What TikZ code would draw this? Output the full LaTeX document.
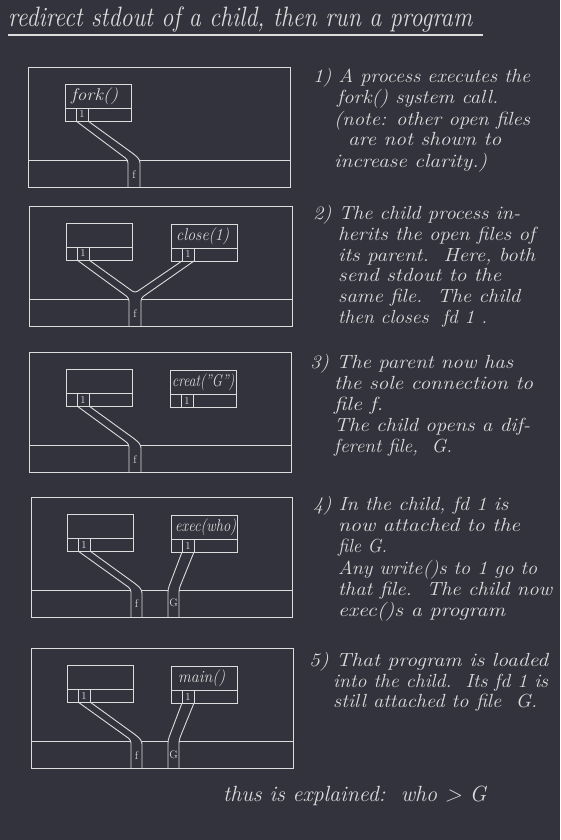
\documentclass[tikz,border=0pt]{standalone}
\usepackage{graphicx}
\usetikzlibrary{calc}
\definecolor{bg}{RGB}{51,51,61}
\definecolor{fg}{RGB}{220,220,220}
\newcommand\fw[2]{\resizebox{#1pt}{\height}{#2}}
\newcommand\procbox[3]{%
  \node[boxtop, anchor=north west] (#1) at (#2,#3) {};
  \node[boxrow, anchor=north] (#1r) at (#1.south) {};
  \node[fdcell, anchor=north west] (#1fd) at ($(#1r.north west)+(11,0)$) {1};
}
\begin{document}
\begin{tikzpicture}[x=1pt,y=-1pt,
  wire/.style={draw=fg, line width=0.9pt, rounded corners=3pt},
  panel/.style={draw=fg, line width=0.9pt, inner sep=0pt, outer sep=0pt, anchor=north west},
  boxtop/.style={draw=fg, line width=0.9pt, minimum width=66pt, minimum height=24pt, inner sep=0pt, outer sep=0pt},
  boxrow/.style={draw=fg, line width=0.9pt, minimum width=66pt, minimum height=13pt, inner sep=0pt, outer sep=0pt},
  fdcell/.style={draw=fg, line width=0.9pt, minimum width=12pt, minimum height=13pt, inner sep=0pt, outer sep=0pt, text=fg, font=\fontsize{10.5}{10.5}\selectfont},
  lbl/.style={anchor=west, inner sep=0pt, text=fg, font=\itshape\fontsize{17}{17}\selectfont},
  pipelbl/.style={inner sep=0pt, text=fg, font=\fontsize{11}{11}\selectfont},
  txt/.style={anchor=base west, inner sep=0pt, text=fg, font=\itshape\fontsize{19}{19}\selectfont},
  ttl/.style={anchor=base west, inner sep=0pt, text=fg, font=\itshape\fontsize{28}{28}\selectfont},
]
\fill[bg] (0,0) rectangle (560,840);
\useasboundingbox (0,0) rectangle (560,840);

% title
\node[ttl] (title) at (8,27) {\fw{464}{redirect stdout of a child, then run a program}};
\coordinate (ul1) at (8,35); \coordinate (ul2) at (483,35);
\draw[draw=fg, line width=1.6pt] (ul1) -- (ul2);

% ---------- panel 1
\node[panel, minimum width=262pt, minimum height=120pt] (P1) at (28,67) {};
\procbox{b1}{65}{84}
\node[lbl] (b1t) at ($(b1.west)+(6,0)$) {\fw{47}{fork()}};
\coordinate (a1) at (128,160); \coordinate (a1b) at (128,187);
\coordinate (c1) at (135,155); \coordinate (d1) at (140,160); \coordinate (d1b) at (140,187);
\coordinate (h1l) at (28,160); \coordinate (h1r) at (290,160);
\draw[wire] (b1fd.south west) -- (a1) -- (a1b);
\draw[wire] (b1fd.south east) -- (c1) -- (d1) -- (d1b);
\draw[wire] (h1l) -- (a1); \draw[wire] (d1) -- (h1r);
\node[pipelbl] (f1) at (134,175) {f};

% ---------- panel 2
\node[panel, minimum width=263pt, minimum height=120pt] (P2) at (29,206) {};
\procbox{b2l}{66}{223}
\procbox{b2r}{171}{224}
\node[lbl] (b2t) at ($(b2r.west)+(5,0)$) {\fw{53}{close(1)}};
\coordinate (a2) at (129,298); \coordinate (a2b) at (129,326);
\coordinate (m2) at (135,293);
\coordinate (d2) at (141,298); \coordinate (d2b) at (141,326);
\coordinate (h2l) at (29,299); \coordinate (h2r) at (292,299);
\coordinate (h2a) at (129,299); \coordinate (h2d) at (141,299);
\draw[wire] (b2lfd.south west) -- (a2) -- (a2b);
\draw[wire] (b2lfd.south east) -- (m2) -- (b2rfd.south west);
\draw[wire] (b2rfd.south east) -- (d2) -- (d2b);
\draw[wire] (h2l) -- (h2a); \draw[wire] (h2d) -- (h2r);
\node[pipelbl] (f2) at (135,314) {f};

% ---------- panel 3
\node[panel, minimum width=262pt, minimum height=120pt] (P3) at (29,352) {};
\procbox{b3l}{66}{369}
\procbox{b3r}{170}{370}
\node[lbl] (b3t) at ($(b3r.west)+(2,0)$) {\fw{62}{creat("G")}};
\coordinate (a3) at (129,444); \coordinate (a3b) at (129,472);
\coordinate (c3) at (136,440); \coordinate (d3) at (141,445); \coordinate (d3b) at (141,472);
\coordinate (h3l) at (29,445); \coordinate (h3r) at (291,445);
\coordinate (h3a) at (129,445);
\draw[wire] (b3lfd.south west) -- (a3) -- (a3b);
\draw[wire] (b3lfd.south east) -- (c3) -- (d3) -- (d3b);
\draw[wire] (h3l) -- (h3a); \draw[wire] (d3) -- (h3r);
\node[pipelbl] (f3) at (135,460) {f};

% ---------- panel 4
\node[panel, minimum width=261pt, minimum height=120pt] (P4) at (31,497) {};
\procbox{b4l}{67}{514}
\procbox{b4r}{171}{515}
\node[lbl] (b4t) at ($(b4r.west)+(4,0)$) {\fw{61}{exec(who)}};
\coordinate (a4) at (131,589); \coordinate (a4b) at (131,617);
\coordinate (c4) at (137,585); \coordinate (d4) at (142,590); \coordinate (d4b) at (142,617);
\coordinate (g4l) at (168,589); \coordinate (g4lb) at (168,617);
\coordinate (g4r) at (179,589); \coordinate (g4rb) at (179,617);
\coordinate (h4l) at (31,590); \coordinate (h4a) at (131,590);
\coordinate (h4g) at (168,590); \coordinate (h4gr) at (179,590); \coordinate (h4r) at (292,590);
\draw[wire] (b4lfd.south west) -- (a4) -- (a4b);
\draw[wire] (b4lfd.south east) -- (c4) -- (d4) -- (d4b);
\draw[wire] (b4rfd.south west) -- (g4l) -- (g4lb);
\draw[wire] (b4rfd.south east) -- (g4r) -- (g4rb);
\draw[wire] (h4l) -- (h4a); \draw[wire] (d4) -- (h4g); \draw[wire] (h4gr) -- (h4r);
\node[pipelbl] (f4) at (136.5,604) {f};
\node[pipelbl] (G4) at (173.5,603) {G};

% ---------- panel 5
\node[panel, minimum width=262pt, minimum height=120pt] (P5) at (31,648) {};
\procbox{b5l}{67}{665}
\procbox{b5r}{171}{666}
\node[lbl] (b5t) at ($(b5r.west)+(7,0)$) {\fw{47}{main()}};
\coordinate (a5) at (131,740); \coordinate (a5b) at (131,768);
\coordinate (c5) at (137,736); \coordinate (d5) at (142,741); \coordinate (d5b) at (142,768);
\coordinate (g5l) at (168,740); \coordinate (g5lb) at (168,768);
\coordinate (g5r) at (179,740); \coordinate (g5rb) at (179,768);
\coordinate (h5l) at (31,741); \coordinate (h5a) at (131,741);
\coordinate (h5g) at (168,741); \coordinate (h5gr) at (179,741); \coordinate (h5r) at (293,741);
\draw[wire] (b5lfd.south west) -- (a5) -- (a5b);
\draw[wire] (b5lfd.south east) -- (c5) -- (d5) -- (d5b);
\draw[wire] (b5rfd.south west) -- (g5l) -- (g5lb);
\draw[wire] (b5rfd.south east) -- (g5r) -- (g5rb);
\draw[wire] (h5l) -- (h5a); \draw[wire] (d5) -- (h5g); \draw[wire] (h5gr) -- (h5r);
\node[pipelbl] (f5) at (136.5,756) {f};
\node[pipelbl] (G5) at (173.5,755) {G};

% ---------- texts
\node[txt] (t1a) at (313,83) {\fw{217}{1) A process executes the}};
\node[txt] (t1b) at (337,104) {\fw{161}{fork() system call.}};
\node[txt] (t1c) at (334,125) {\fw{196}{(note: other open files}};
\node[txt] (t1d) at (348,146) {\fw{153}{are not shown to}};
\node[txt] (t1e) at (334,167) {\fw{153}{increase clarity.)}};

\node[txt] (t2a) at (313,219) {\fw{207}{2) The child process in-}};
\node[txt] (t2b) at (338,240) {\fw{197}{herits the open files of}};
\node[txt] (t2c) at (338,261) {\fw{197}{its parent.\ \ Here, both}};
\node[txt] (t2d) at (338,281) {\fw{163}{send stdout to the}};
\node[txt] (t2e) at (338,302) {\fw{182}{same file.\ \ The child}};
\node[txt] (t2f) at (338,323) {\fw{149}{then closes\ \ fd 1 .}};

\node[txt] (t3a) at (310,368) {\fw{203}{3) The parent now has}};
\node[txt] (t3b) at (334,389) {\fw{199}{the sole connection to}};
\node[txt] (t3c) at (334,410) {\fw{49}{file f.}};
\node[txt] (t3d) at (334,431) {\fw{196}{The child opens a dif-}};
\node[txt] (t3e) at (334,452) {\fw{118}{ferent file,\ \ G.}};

\node[txt] (t4a) at (313,510) {\fw{195}{4) In the child, fd 1 is}};
\node[txt] (t4b) at (338,531) {\fw{182}{now attached to the}};
\node[txt] (t4c) at (338,552) {\fw{49}{file G.}};
\node[txt] (t4d) at (338,574) {\fw{199}{Any write()s to 1 go to}};
\node[txt] (t4e) at (338,595) {\fw{214}{that file.\ \ The child now}};
\node[txt] (t4f) at (338,616) {\fw{167}{exec()s a program}};

\node[txt] (t5a) at (309,666) {\fw{239}{5) That program is loaded}};
\node[txt] (t5b) at (333,687) {\fw{215}{into the child.\ \ Its fd 1 is}};
\node[txt] (t5c) at (333,707) {\fw{204}{still attached to file\ \ G.}};

\node[txt, font=\itshape\fontsize{22}{22}\selectfont] (tb) at (223,801) {\fw{263}{thus is explained:\ \ who > G}};
\end{tikzpicture}
\end{document}
